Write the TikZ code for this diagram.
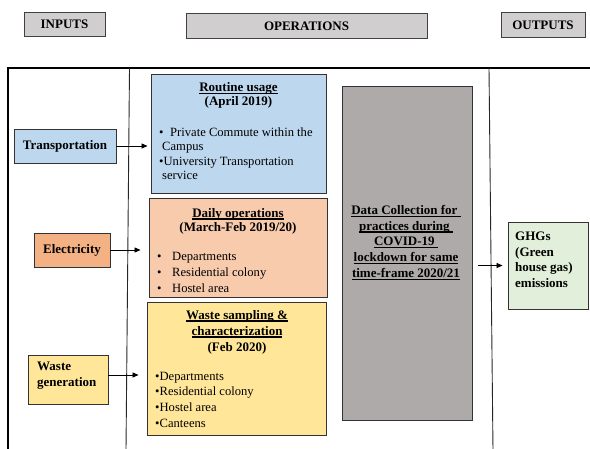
\documentclass[tikz,border=0pt]{standalone}
\usepackage{fontspec}
\setmainfont{Liberation Serif}
\usetikzlibrary{arrows.meta}
\definecolor{hdrfill}{HTML}{D0CECE}
\definecolor{bluefill}{HTML}{BDD7EE}
\definecolor{peachfill}{HTML}{F8CBAD}
\definecolor{orangefill}{HTML}{F4B183}
\definecolor{yellowfill}{HTML}{FFE699}
\definecolor{grayfill}{HTML}{AEAAAA}
\definecolor{greenfill}{HTML}{E2EFDA}
% underline set at a fixed depth below the baseline
\newsavebox\ulbox
\newcommand{\ulw}[1]{\sbox\ulbox{#1}\rlap{\usebox\ulbox}\rule[-2.4pt]{\wd\ulbox}{1.2pt}}
\tikzset{
  box/.style={draw=black!80, line width=0.9pt, inner sep=0pt},
  hdr/.style={box, fill=hdrfill, draw=black!75, font=\bfseries\fontsize{13}{14.5}\selectfont},
  txt/.style={inner sep=0pt, font=\fontsize{12.6}{14.5}\selectfont},
  arr/.style={line width=0.8pt, -{Triangle[length=6pt,width=5pt]}},
  frame/.style={line width=1.6pt, black},
  divider/.style={line width=0.9pt, black!85}
}
\begin{document}
\begin{tikzpicture}[x=1pt, y=-1pt]
\useasboundingbox (0,0) rectangle (590,448);

% header boxes
\node[hdr, minimum width=81pt, minimum height=24pt] (hin) at (64.5,24.5) {\textbf{INPUTS}};
\node[hdr, minimum width=241pt, minimum height=25pt] (hop) at (306.5,26) {\textbf{OPERATIONS}};
\node[hdr, minimum width=84pt, minimum height=25pt] (hout) at (543,25) {\textbf{OUTPUTS}};

% outer frame and column dividers
\draw[frame] (8,450) -- (8,68) -- (592,68);
\draw[divider] (129.5,68) -- (126,450);
\draw[divider] (489,68) -- (493,450);

% input boxes
\node[box, fill=bluefill, minimum width=102pt, minimum height=34pt, font=\bfseries\fontsize{13}{14.5}\selectfont] (trans) at (65,146) {Transportation};
\node[box, fill=orangefill, minimum width=76pt, minimum height=34pt, font=\bfseries\fontsize{13}{14.5}\selectfont] (elec) at (72,250) {Electricity};
\node[box, fill=yellowfill, minimum width=80pt, minimum height=49pt] (wastegen) at (68,379.5) {};
\node[txt, anchor=west, align=left, font=\bfseries\fontsize{13}{16}\selectfont] (wastegenT) at (37,376) {Waste\\generation};

% operation boxes
\node[box, fill=bluefill, minimum width=175pt, minimum height=119pt] (routine) at (238.5,133.5) {};
\node[txt, align=center, font=\bfseries\fontsize{13}{13.8}\selectfont] (routineT) at (238.5,95.5) {\ulw{Routine usage}\\(April 2019)};
\node[txt, anchor=west, align=left] (routineL) at (159,153.5) {\makebox[11pt][l]{\textbullet}Private Commute within the\\\hspace*{3pt}Campus\\\textbullet University Transportation\\\hspace*{3pt}service};

\node[box, fill=peachfill, minimum width=178pt, minimum height=99pt] (daily) at (238,247.5) {};
\node[txt, align=center, font=\bfseries\fontsize{13}{13.8}\selectfont] (dailyT) at (238,221) {\ulw{Daily operations}\\(March-Feb 2019/20)};
\node[txt, anchor=west, align=left, font=\fontsize{12.6}{16}\selectfont] (dailyL) at (157,272) {\makebox[15pt][l]{\textbullet}Departments\\\makebox[15pt][l]{\textbullet}Residential colony\\\makebox[15pt][l]{\textbullet}Hostel area};

\node[box, fill=yellowfill, minimum width=179pt, minimum height=133pt] (wastes) at (236.5,368.5) {};
\node[txt, align=center, font=\bfseries\fontsize{13}{16}\selectfont] (wastesT) at (237,332) {\ulw{Waste sampling \&}\\\ulw{characterization}\\(Feb 2020)};
\node[txt, anchor=west, align=left, font=\fontsize{12.6}{15.7}\selectfont] (wastesL) at (155,399.5) {\textbullet Departments\\\textbullet Residential colony\\\textbullet Hostel area\\\textbullet Canteens};

\node[box, fill=grayfill, minimum width=130pt, minimum height=334pt] (data) at (407,253) {};
\node[txt, align=center, font=\bfseries\fontsize{13}{15.8}\selectfont] (dataT) at (406,242.6) {\ulw{Data Collection for\ }\\\ulw{practices during\ }\\\ulw{COVID-19\ }\\\ulw{lockdown for same}\\\ulw{time-frame 2020/21}};

% output box
\node[box, fill=greenfill, minimum width=80pt, minimum height=87pt] (ghg) at (548,265.5) {};
\node[txt, anchor=west, align=left, font=\bfseries\fontsize{13}{15.7}\selectfont] (ghgT) at (515,259.8) {GHGs\\(Green\\house gas)\\emissions};

% connectors
\draw[arr, shorten >=3pt] (trans.east) -- (trans.east -| routine.west);
\draw[arr, shorten >=8pt] (elec.east) -- (elec.east -| daily.west);
\coordinate (wg) at ([yshift=4.5pt]wastegen.east);
\draw[arr, shorten >=8pt] (wg) -- (wg -| wastes.west);
\draw[arr, shorten <=6pt, shorten >=5pt] (ghg.west -| data.east) -- (ghg.west);
\end{tikzpicture}
\end{document}
